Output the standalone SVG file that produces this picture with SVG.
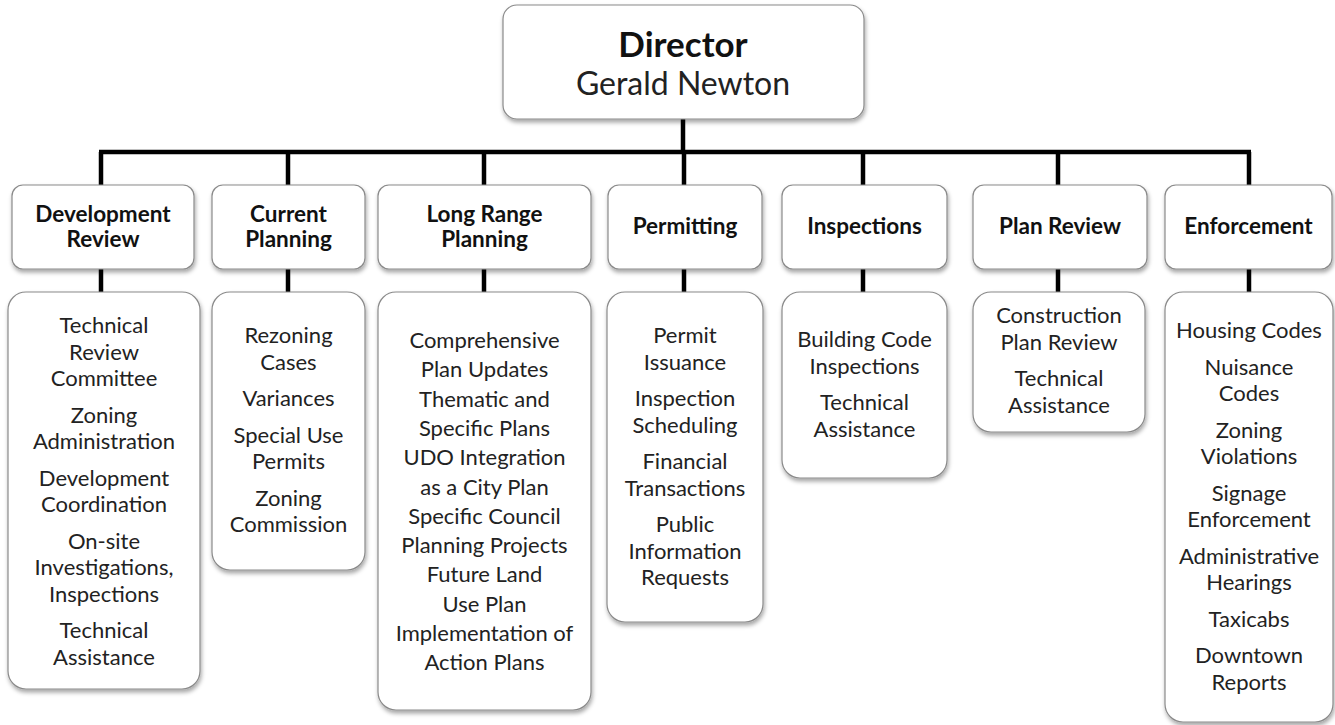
<svg xmlns="http://www.w3.org/2000/svg" width="1335" height="725" viewBox="0 0 1335 725">
<defs>
<filter id="sh" x="-10%" y="-10%" width="125%" height="130%">
<feDropShadow dx="1" dy="3" stdDeviation="2" flood-color="#000" flood-opacity="0.35"/>
</filter>
</defs>
<style>
.box{fill:#fff;stroke:#8a8a8a;stroke-width:1.2;filter:url(#sh)}
.hd{font-family:Lato,"Liberation Sans",sans-serif;font-weight:bold;font-size:22.5px;fill:#111;text-anchor:middle}
.tx{font-family:Lato,"Liberation Sans",sans-serif;font-size:22px;fill:#222;text-anchor:middle}
.con{stroke:#000;stroke-width:4.5;fill:none}
</style>
<rect width="1335" height="725" fill="#fff"/>
<g id="connectors">
<line class="con" x1="683" y1="118" x2="683" y2="152"/>
<line class="con" x1="99" y1="152" x2="1251" y2="152"/>
<line class="con" x1="101" y1="152" x2="101" y2="186"/>
<line class="con" x1="288" y1="152" x2="288" y2="186"/>
<line class="con" x1="484" y1="152" x2="484" y2="186"/>
<line class="con" x1="684" y1="152" x2="684" y2="186"/>
<line class="con" x1="863" y1="152" x2="863" y2="186"/>
<line class="con" x1="1058" y1="152" x2="1058" y2="186"/>
<line class="con" x1="1249" y1="152" x2="1249" y2="186"/>
<line class="con" x1="101" y1="268" x2="101" y2="293"/>
<line class="con" x1="288" y1="268" x2="288" y2="293"/>
<line class="con" x1="484" y1="268" x2="484" y2="293"/>
<line class="con" x1="684" y1="268" x2="684" y2="293"/>
<line class="con" x1="863" y1="268" x2="863" y2="293"/>
<line class="con" x1="1058" y1="268" x2="1058" y2="293"/>
<line class="con" x1="1249" y1="268" x2="1249" y2="293"/>
</g>
<g id="director">
<rect class="box" x="503" y="5" width="361" height="114" rx="14"/>
<text x="683" y="57" font-family="Lato,'Liberation Sans',sans-serif" font-weight="bold" font-size="35" fill="#111" text-anchor="middle">Director</text>
<text x="683" y="95" font-family="Lato,'Liberation Sans',sans-serif" font-size="32" fill="#222" text-anchor="middle">Gerald Newton</text>
</g>
<g id="dev-review">
<rect class="box" x="12" y="185" width="182" height="84" rx="11"/>
<text class="hd" x="103" y="222">Development</text>
<text class="hd" x="103" y="247">Review</text>
</g>
<g id="current-planning">
<rect class="box" x="212" y="185" width="153" height="84" rx="11"/>
<text class="hd" x="288.5" y="222">Current</text>
<text class="hd" x="288.5" y="247">Planning</text>
</g>
<g id="long-range-planning">
<rect class="box" x="378" y="185" width="213" height="84" rx="11"/>
<text class="hd" x="484.5" y="222">Long Range</text>
<text class="hd" x="484.5" y="247">Planning</text>
</g>
<g id="permitting">
<rect class="box" x="608" y="185" width="154" height="84" rx="11"/>
<text class="hd" x="685" y="234">Permitting</text>
</g>
<g id="inspections">
<rect class="box" x="782" y="185" width="165" height="84" rx="11"/>
<text class="hd" x="864.5" y="234">Inspections</text>
</g>
<g id="plan-review">
<rect class="box" x="973" y="185" width="174" height="84" rx="11"/>
<text class="hd" x="1060" y="234">Plan Review</text>
</g>
<g id="enforcement">
<rect class="box" x="1165" y="185" width="167" height="84" rx="11"/>
<text class="hd" x="1248.5" y="234">Enforcement</text>
</g>
<g id="dev-review-duties">
<rect class="box" x="8" y="292" width="192" height="397" rx="18"/>
<text class="tx" x="104" y="333">Technical</text>
<text class="tx" x="104" y="359.5">Review</text>
<text class="tx" x="104" y="386">Committee</text>
<text class="tx" x="104" y="422.5">Zoning</text>
<text class="tx" x="104" y="449">Administration</text>
<text class="tx" x="104" y="485.5">Development</text>
<text class="tx" x="104" y="512">Coordination</text>
<text class="tx" x="104" y="548.5">On-site</text>
<text class="tx" x="104" y="575">Investigations,</text>
<text class="tx" x="104" y="601.5">Inspections</text>
<text class="tx" x="104" y="638">Technical</text>
<text class="tx" x="104" y="664.5">Assistance</text>
</g>
<g id="current-planning-duties">
<rect class="box" x="212" y="292" width="153" height="278" rx="18"/>
<text class="tx" x="288.5" y="343">Rezoning</text>
<text class="tx" x="288.5" y="369.5">Cases</text>
<text class="tx" x="288.5" y="406">Variances</text>
<text class="tx" x="288.5" y="442.5">Special Use</text>
<text class="tx" x="288.5" y="469">Permits</text>
<text class="tx" x="288.5" y="505.5">Zoning</text>
<text class="tx" x="288.5" y="532">Commission</text>
</g>
<g id="long-range-duties">
<rect class="box" x="378" y="292" width="213" height="418" rx="18"/>
<text class="tx" x="484.5" y="348">Comprehensive</text>
<text class="tx" x="484.5" y="377.3">Plan Updates</text>
<text class="tx" x="484.5" y="406.6">Thematic and</text>
<text class="tx" x="484.5" y="435.9">Specific Plans</text>
<text class="tx" x="484.5" y="465.2">UDO Integration</text>
<text class="tx" x="484.5" y="494.5">as a City Plan</text>
<text class="tx" x="484.5" y="523.8">Specific Council</text>
<text class="tx" x="484.5" y="553.1">Planning Projects</text>
<text class="tx" x="484.5" y="582.4">Future Land</text>
<text class="tx" x="484.5" y="611.7">Use Plan</text>
<text class="tx" x="484.5" y="641">Implementation of</text>
<text class="tx" x="484.5" y="670.3">Action Plans</text>
</g>
<g id="permitting-duties">
<rect class="box" x="607" y="292" width="156" height="330" rx="18"/>
<text class="tx" x="685" y="343">Permit</text>
<text class="tx" x="685" y="369.5">Issuance</text>
<text class="tx" x="685" y="406">Inspection</text>
<text class="tx" x="685" y="432.5">Scheduling</text>
<text class="tx" x="685" y="469">Financial</text>
<text class="tx" x="685" y="495.5">Transactions</text>
<text class="tx" x="685" y="532">Public</text>
<text class="tx" x="685" y="558.5">Information</text>
<text class="tx" x="685" y="585">Requests</text>
</g>
<g id="inspections-duties">
<rect class="box" x="782" y="292" width="165" height="186" rx="18"/>
<text class="tx" x="864.5" y="347">Building Code</text>
<text class="tx" x="864.5" y="373.5">Inspections</text>
<text class="tx" x="864.5" y="410">Technical</text>
<text class="tx" x="864.5" y="436.5">Assistance</text>
</g>
<g id="plan-review-duties">
<rect class="box" x="973" y="292" width="172" height="140" rx="18"/>
<text class="tx" x="1059" y="323">Construction</text>
<text class="tx" x="1059" y="349.5">Plan Review</text>
<text class="tx" x="1059" y="386">Technical</text>
<text class="tx" x="1059" y="412.5">Assistance</text>
</g>
<g id="enforcement-duties">
<rect class="box" x="1165" y="292" width="168" height="430" rx="18"/>
<text class="tx" x="1249" y="338">Housing Codes</text>
<text class="tx" x="1249" y="374.5">Nuisance</text>
<text class="tx" x="1249" y="401">Codes</text>
<text class="tx" x="1249" y="437.5">Zoning</text>
<text class="tx" x="1249" y="464">Violations</text>
<text class="tx" x="1249" y="500.5">Signage</text>
<text class="tx" x="1249" y="527">Enforcement</text>
<text class="tx" x="1249" y="563.5">Administrative</text>
<text class="tx" x="1249" y="590">Hearings</text>
<text class="tx" x="1249" y="626.5">Taxicabs</text>
<text class="tx" x="1249" y="663">Downtown</text>
<text class="tx" x="1249" y="689.5">Reports</text>
</g>
</svg>
